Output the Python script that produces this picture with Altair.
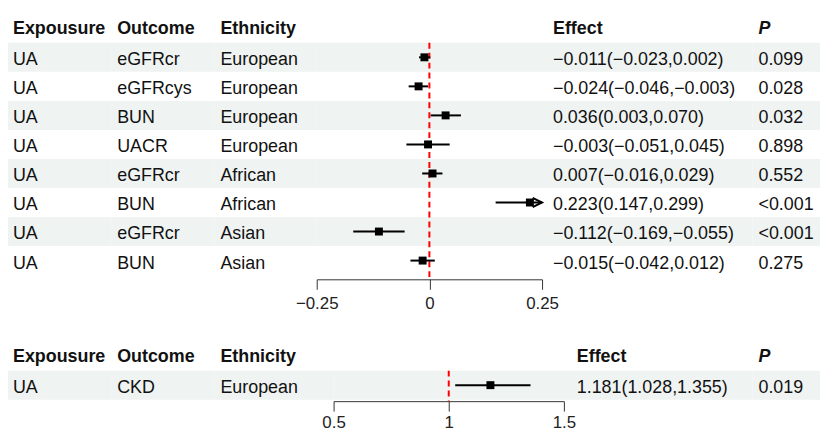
import altair as alt
import pandas as pd

# ---------------- data ----------------
headers = ["Expousure", "Outcome", "Ethnicity", "Effect", "P"]

exposure_top = ["UA", "UA", "UA", "UA", "UA", "UA", "UA", "UA"]
outcome_top = ["eGFRcr", "eGFRcys", "BUN", "UACR", "eGFRcr", "BUN", "eGFRcr", "BUN"]
ethnicity_top = ["European", "European", "European", "European",
                 "African", "African", "Asian", "Asian"]
est_top = [-0.011, -0.024, 0.036, -0.003, 0.007, 0.223, -0.112, -0.015]
lo_top = [-0.023, -0.046, 0.003, -0.051, -0.016, 0.147, -0.169, -0.042]
hi_top = [0.002, -0.003, 0.070, 0.045, 0.029, 0.299, -0.055, 0.012]
p_top = ["0.099", "0.028", "0.032", "0.898", "0.552", "<0.001", "<0.001", "0.275"]
ticks_top = [-0.25, 0, 0.25]
ref_top = 0

exposure_bot = ["UA"]
outcome_bot = ["CKD"]
ethnicity_bot = ["European"]
est_bot = [1.181]
lo_bot = [1.028]
hi_bot = [1.355]
p_bot = ["0.019"]
ticks_bot = [0.5, 1, 1.5]
ref_bot = 1

# ---------------- style ----------------
BAND = "#EFF3F2"
TXT = "#111111"
FONT = "Liberation Sans"
FS = 18
ROW_H = 29.25


def fmt(v):
    return f"{v:.3f}".replace("-", "\u2212")


def build_df(exp, out, eth, est, lo, hi, p, xmin, xmax):
    df = pd.DataFrame({
        "row": list(range(1, len(exp) + 1)),
        "exp": exp, "out": out, "eth": eth,
        "est": est, "lo": lo, "hi": hi, "p": p,
    })
    df["effect"] = [f"{fmt(e)}({fmt(l)},{fmt(h)})" for e, l, h in zip(est, lo, hi)]
    df["lo_c"] = df["lo"].clip(lower=xmin)
    df["hi_c"] = df["hi"].clip(upper=xmax)
    df["arrow"] = df["hi"] > xmax
    return df


def yscale_for(n, pad_px):
    return alt.Scale(domain=list(range(n + 1)), paddingInner=0,
                     paddingOuter=pad_px / ROW_H)


def band_layer(df, ys, width):
    return alt.Chart(df).transform_filter("datum.row % 2 == 1").mark_rect(
        color=BAND).encode(
        y=alt.Y("row:O", scale=ys, axis=None),
        x=alt.value(0), x2=alt.value(width))


def text_col(df, field, header, width, xoff, ys, H, italic=False):
    band = band_layer(df, ys, width)
    body = alt.Chart(df).mark_text(
        align="left", baseline="middle", fontSize=FS, dy=3, color=TXT,
        font=FONT).encode(
        y=alt.Y("row:O", scale=ys, axis=None),
        x=alt.value(xoff), text=alt.Text(f"{field}:N"))
    head = alt.Chart(pd.DataFrame({"row": [0], "h": [header]})).mark_text(
        align="left", baseline="middle", fontSize=FS, dy=1, color=TXT,
        font=FONT, fontWeight="bold",
        fontStyle="italic" if italic else "normal").encode(
        y=alt.Y("row:O", scale=ys, axis=None),
        x=alt.value(xoff), text=alt.Text("h:N"))
    return alt.layer(band, body, head).properties(width=width, height=H)


def forest_col(df, width, H, ys, xdomain, ticks, ref, lab_pad):
    xs = alt.Scale(domain=xdomain, nice=False, zero=False)
    ax = alt.Axis(values=ticks, format=".2~f", title=None, grid=False,
                  orient="bottom", tickSize=10, tickWidth=1, domainWidth=1,
                  domainColor="#333333", tickColor="#333333",
                  labelColor="#222222", labelFontSize=17, labelFont=FONT,
                  labelPadding=lab_pad, labelFlush=False, labelOverlap=False)
    band = band_layer(df, ys, width)
    refline = alt.Chart(pd.DataFrame({"row": [1], "ref": [ref]})).mark_rule(
        color="#FF0000", strokeDash=[6, 4], strokeWidth=2).encode(
        x=alt.X("ref:Q", scale=xs, axis=ax),
        y=alt.Y("row:O", scale=ys, axis=None, bandPosition=0),
        y2=alt.value(H))
    ci = alt.Chart(df).mark_rule(color="black", strokeWidth=2).encode(
        x=alt.X("lo_c:Q", scale=xs, axis=ax), x2="hi_c:Q",
        y=alt.Y("row:O", scale=ys, axis=None))
    pts = alt.Chart(df).mark_square(color="black", size=64, opacity=1).encode(
        x=alt.X("est:Q", scale=xs, axis=ax),
        y=alt.Y("row:O", scale=ys, axis=None))
    arr = alt.Chart(df).transform_filter("datum.arrow").mark_point(
        shape="M-2,-1L0,0L-2,1", size=90, filled=False, strokeWidth=2,
        color="black", opacity=1).encode(
        x=alt.X("hi_c:Q", scale=xs, axis=ax),
        y=alt.Y("row:O", scale=ys, axis=None))
    return alt.layer(band, refline, ci, pts, arr).properties(width=width, height=H)


def panel(df, n, pad_px, widths, offsets, xdomain, ticks, ref, lab_pad):
    ys = yscale_for(n, pad_px)
    H = (n + 1) * ROW_H + 2 * pad_px
    cols = [
        text_col(df, "exp", headers[0], widths[0], offsets[0], ys, H),
        text_col(df, "out", headers[1], widths[1], offsets[1], ys, H),
        text_col(df, "eth", headers[2], widths[2], offsets[2], ys, H),
        forest_col(df, widths[3], H, ys, xdomain, ticks, ref, lab_pad),
        text_col(df, "effect", headers[3], widths[4], offsets[4], ys, H),
        text_col(df, "p", headers[4], widths[5], offsets[5], ys, H, italic=True),
    ]
    return alt.hconcat(*cols, spacing=0, bounds="flush")


df_top = build_df(exposure_top, outcome_top, ethnicity_top, est_top, lo_top,
                  hi_top, p_top, ticks_top[0], ticks_top[-1])
df_bot = build_df(exposure_bot, outcome_bot, ethnicity_bot, est_bot, lo_bot,
                  hi_bot, p_bot, ticks_bot[0], ticks_bot[-1])

top = panel(df_top, len(est_top), 4.25,
            [104, 104, 103, 227, 212, 68], [5, 6, 6, 0, 11, 6],
            [ticks_top[0], ticks_top[-1]], ticks_top, ref_top, 6)
bot = panel(df_bot, len(est_bot), 1.5,
            [104, 104, 120, 232, 190, 68], [5, 6, 6, 0, 13, 6],
            [ticks_bot[0], ticks_bot[-1]], ticks_bot, ref_bot, 4)

chart = alt.vconcat(top, bot, spacing=29).resolve_scale(
    x="independent", y="independent").properties(padding=0).configure(
    font=FONT, view=alt.ViewConfig(stroke=None))

chart.save("out.html", embed_options={"renderer": "svg", "actions": False})
